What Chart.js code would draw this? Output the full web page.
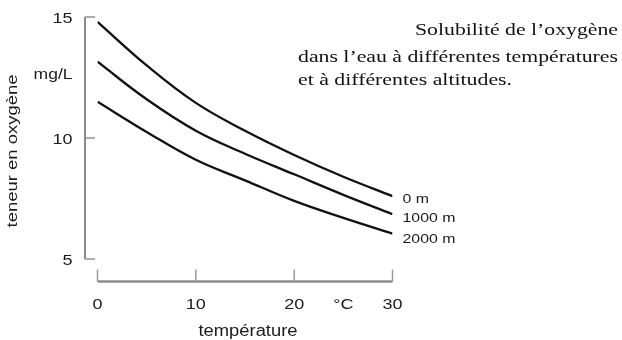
<!DOCTYPE html>
<html>
<head>
<meta charset="utf-8">
<script src="https://cdn.jsdelivr.net/npm/chart.js@4/dist/chart.umd.min.js"></script>
<style>
  html, body { margin: 0; padding: 0; background: #fff; }
  #wrap { width: 622px; height: 340px; }
</style>
</head>
<body>
<div id="wrap"><canvas id="c" width="622" height="340"></canvas></div>
<script>
// ---- data ----
const temperatures = [0, 5, 10, 15, 20, 25, 30];           // °C
const oxygen0m    = [14.8, 13.0, 11.45, 10.3, 9.3, 8.4, 7.6];   // mg/L
const oxygen1000m = [13.15, 11.6, 10.3, 9.35, 8.5, 7.65, 6.85];
const oxygen2000m = [11.5, 10.25, 9.1, 8.25, 7.4, 6.7, 6.05];
const seriesLabels = ['0 m', '1000 m', '2000 m'];
const xTicks = [0, 10, 20, 30];
const yTicks = [5, 10, 15];
const xUnitLabel = '°C';
const xUnitAt = 25;
const yUnitLabel = 'mg/L';
const xTitle = 'température';
const yTitle = 'teneur en oxygène';
const titleLines = ['Solubilité de l’oxygène', 'dans l’eau à différentes températures', 'et à différentes altitudes.'];

// ---- build chart ----
const toPoints = arr => temperatures.map((t, i) => ({ x: t, y: arr[i] }));
const allSeries = [oxygen0m, oxygen1000m, oxygen2000m];

function drawText(ctx, s, x, y, font, align, sx, color) {
  ctx.save();
  ctx.font = font;
  ctx.fillStyle = color || '#222';
  ctx.textAlign = align;
  ctx.textBaseline = 'middle';
  ctx.translate(x, y);
  ctx.scale(sx, 1);
  ctx.fillText(s, 0, 0);
  ctx.restore();
}
function drawFitted(ctx, s, x, y, font, align, targetW, color) {
  ctx.save();
  ctx.font = font;
  const w = ctx.measureText(s).width;
  ctx.restore();
  drawText(ctx, s, x, y, font, align, targetW / w, color);
}

const decor = {
  id: 'decor',
  afterDatasetsDraw(chart) {
    const { ctx, scales: { x, y } } = chart;
    const sans = 'Liberation Sans, Arial, sans-serif';
    const serif = 'Liberation Serif, Times New Roman, serif';
    const yMin = Math.min(...yTicks), yMax = Math.max(...yTicks);
    const xMin = Math.min(...xTicks), xMax = Math.max(...xTicks);

    // y axis line with inward ticks
    const axX = x.getPixelForValue(xMin) - 12.5;
    ctx.save();
    ctx.strokeStyle = '#6e6e6e';
    ctx.lineWidth = 1.6;
    ctx.beginPath();
    ctx.moveTo(axX, y.getPixelForValue(yMax));
    ctx.lineTo(axX, y.getPixelForValue(yMin));
    ctx.stroke();
    ctx.strokeStyle = '#8a8a8a';
    ctx.lineWidth = 1.4;
    yTicks.forEach(v => {
      const py = y.getPixelForValue(v);
      ctx.beginPath();
      ctx.moveTo(axX, py);
      ctx.lineTo(axX + 10, py);
      ctx.stroke();
    });
    ctx.restore();
    yTicks.forEach(v => {
      drawText(ctx, String(v), axX - 12.5, y.getPixelForValue(v) + 2, '15px ' + sans, 'right', 1.2, '#1a1a1a');
    });
    drawText(ctx, yUnitLabel, axX - 12.5, y.getPixelForValue(12.6), '14px ' + sans, 'right', 1.25, '#1a1a1a');

    // x axis line with upward ticks
    const axY = y.getPixelForValue(yMin) + 22.5;
    ctx.save();
    ctx.strokeStyle = '#8c8c8c';
    ctx.lineWidth = 2.6;
    ctx.beginPath();
    ctx.moveTo(x.getPixelForValue(xMin), axY);
    ctx.lineTo(x.getPixelForValue(xMax), axY);
    ctx.stroke();
    ctx.lineWidth = 1.5;
    ctx.strokeStyle = '#9a9a9a';
    xTicks.forEach(v => {
      const px = x.getPixelForValue(v);
      ctx.beginPath();
      ctx.moveTo(px, axY);
      ctx.lineTo(px, axY - 12);
      ctx.stroke();
    });
    ctx.restore();
    xTicks.forEach(v => {
      drawText(ctx, String(v), x.getPixelForValue(v), axY + 23, '15px ' + sans, 'center', 1.2, '#1a1a1a');
    });
    drawText(ctx, xUnitLabel, x.getPixelForValue(xUnitAt), axY + 23, '15px ' + sans, 'center', 1.2, '#1a1a1a');

    // axis titles
    drawFitted(ctx, xTitle, 248, axY + 50, '16px ' + sans, 'center', 99, '#1a1a1a');
    ctx.save();
    ctx.translate(13, 151);
    ctx.rotate(-Math.PI / 2);
    drawFitted(ctx, yTitle, 0, 0, '15px ' + sans, 'center', 153, '#1a1a1a');
    ctx.restore();

    // series end labels
    chart.data.datasets.forEach((ds, i) => {
      const last = ds.data[ds.data.length - 1];
      drawText(ctx, ds.label, x.getPixelForValue(last.x) + 10, y.getPixelForValue(last.y) + 3 + i * 1.5,
        '13px ' + sans, 'left', 1.22, '#1a1a1a');
    });

    // title block
    drawFitted(ctx, titleLines[0], 618, 31, '16px ' + serif, 'right', 203, '#111');
    drawFitted(ctx, titleLines[1], 298, 58, '16px ' + serif, 'left', 320, '#111');
    drawFitted(ctx, titleLines[2], 298, 81, '16px ' + serif, 'left', 214, '#111');
  }
};

new Chart(document.getElementById('c'), {
  type: 'line',
  data: {
    datasets: allSeries.map((arr, i) => ({
      label: seriesLabels[i],
      data: toPoints(arr),
      borderColor: '#111',
      borderWidth: 2.3,
      pointRadius: 0,
      tension: 0.4,
      fill: false
    }))
  },
  options: {
    responsive: false,
    animation: false,
    devicePixelRatio: 1,
    layout: { padding: { left: 97.5, right: 229.5, top: 17, bottom: 81 } },
    plugins: { legend: { display: false }, tooltip: { enabled: false }, title: { display: false } },
    scales: {
      x: { type: 'linear', min: Math.min(...xTicks), max: Math.max(...xTicks), display: false },
      y: { type: 'linear', min: Math.min(...yTicks), max: Math.max(...yTicks), display: false }
    }
  },
  plugins: [decor]
});
</script>
</body>
</html>
